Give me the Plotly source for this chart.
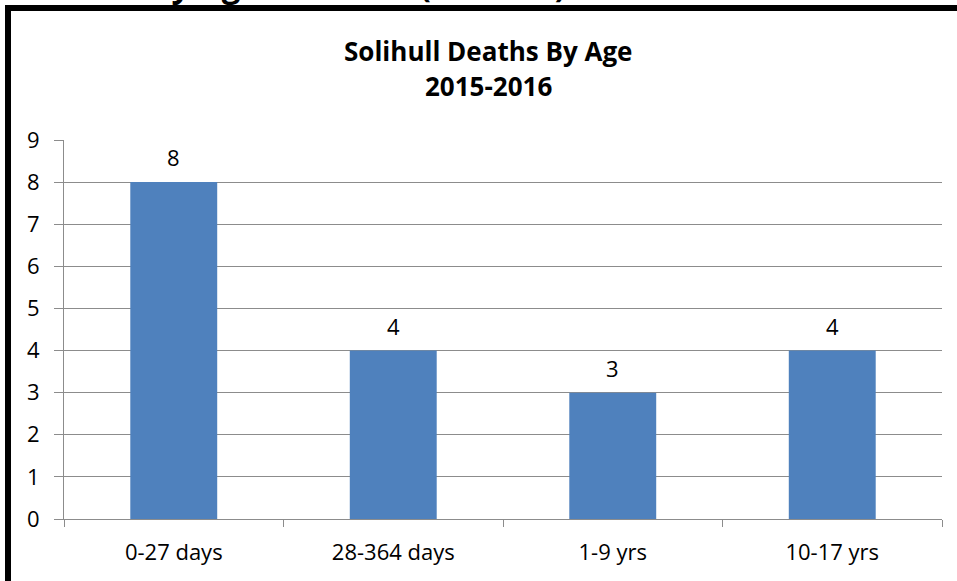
import plotly.graph_objects as go

categories = ["0-27 days", "28-364 days", "1-9 yrs", "10-17 yrs"]
deaths = [8, 4, 3, 4]
y_ticks = list(range(0, 10))

title_line1 = "Solihull Deaths By Age"
title_line2 = "2015-2016"
clipped_heading = "Solihull Deaths by Age at Death (2015-16)"

FONT = "Open Sans"
GRID = "#8c8c8c"

W, H = 957, 581


def px(sx):
    """screen x (px) -> paper x"""
    return (sx - 64) / 878


def py(sy):
    """screen y (px) -> paper y"""
    return (519 - sy) / 379


fig = go.Figure()
fig.add_trace(go.Bar(
    x=categories, y=deaths,
    marker=dict(color="#4F81BD", line=dict(width=0)),
    hoverinfo="x+y",
))

# data labels
for c, v in zip(categories, deaths):
    fig.add_annotation(x=c, y=v, xref="x", yref="y", text=str(v),
                       showarrow=False, yshift=25,
                       font=dict(family=FONT, size=22, color="#000000"))

# Chart titles
fig.add_annotation(x=px(488), y=py(51), xref="paper", yref="paper",
                   text="<b>" + title_line1 + "</b>", showarrow=False,
                   xanchor="center", yanchor="middle",
                   font=dict(family=FONT, size=26, color="#000000"))
fig.add_annotation(x=px(488), y=py(86), xref="paper", yref="paper",
                   text="<b>" + title_line2 + "</b>", showarrow=False,
                   xanchor="center", yanchor="middle",
                   font=dict(family=FONT, size=26, color="#000000"))

# page heading cut off at the top of the picture (only descenders visible)
fig.add_annotation(x=px(568), y=py(-15), xref="paper", yref="paper",
                   text="<b>" + clipped_heading + "</b>", showarrow=False,
                   xanchor="right", yanchor="middle",
                   font=dict(family=FONT, size=33, color="#000000"))

# black frame around the chart
fl = px(8)
ft = py(8)
fig.add_shape(type="path", xref="paper", yref="paper",
              path=f"M {fl},-1 L {fl},{ft} L 1.5,{ft}",
              line=dict(color="#000000", width=6))

fig.update_layout(
    width=W, height=H,
    margin=dict(l=64, r=W - 942, t=140, b=H - 519),
    paper_bgcolor="white", plot_bgcolor="white",
    bargap=0.604,
    showlegend=False,
    font=dict(family=FONT, size=22, color="#000000"),
    xaxis=dict(
        tickson="boundaries", ticks="outside", ticklen=7, tickcolor=GRID, tickwidth=1,
        showline=True, linecolor=GRID, linewidth=1,
        showgrid=False, tickfont=dict(family=FONT, size=22, color="#000000"),
        ticklabelstandoff=14,
    ),
    yaxis=dict(
        range=[0, 9], tickvals=y_ticks, ticks="outside", ticklen=9, tickcolor=GRID,
        showline=True, linecolor=GRID, linewidth=1,
        showgrid=True, gridcolor=GRID, gridwidth=1, zeroline=False,
        tickfont=dict(family=FONT, size=22, color="#000000"),
        ticklabelstandoff=10,
    ),
)

# remove the default 8px page margin so the figure fills the window
fig.write_html("out.html", config={"displayModeBar": False},
               post_script="document.body.style.margin='0';")
